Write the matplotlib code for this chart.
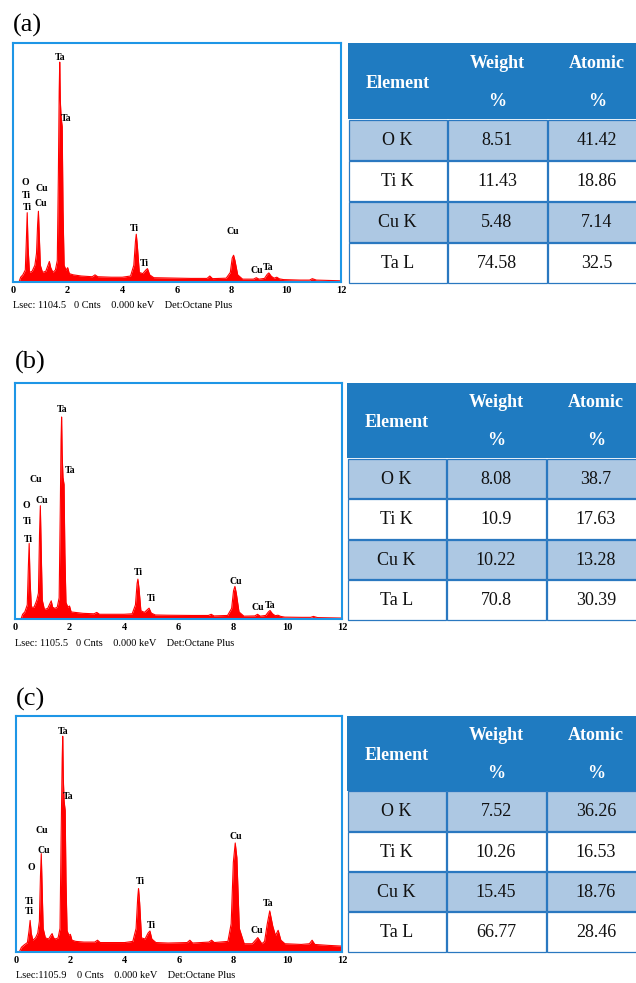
"""EDS spectra with element tables, three samples (a)-(c)."""
import matplotlib
matplotlib.use('Agg')
import matplotlib.pyplot as plt
from matplotlib.patches import Rectangle

plt.rcParams['font.family'] = ['Liberation Serif', 'DejaVu Serif']

# ── data ────────────────────────────────────────────────────────────────────
# (energy keV, relative counts)
spec_a = [(0.22, 0.0), (0.28, 0.02), (0.36, 0.03), (0.45, 0.05), (0.49, 0.18), (0.52, 0.29),
          (0.55, 0.15), (0.60, 0.04), (0.70, 0.045), (0.80, 0.07), (0.86, 0.12), (0.90, 0.24),
          (0.93, 0.296), (0.96, 0.20), (1.00, 0.07), (1.08, 0.04), (1.20, 0.045), (1.28, 0.07),
          (1.33, 0.086), (1.38, 0.06), (1.46, 0.04), (1.55, 0.05), (1.62, 0.09), (1.66, 0.45),
          (1.69, 0.80), (1.71, 0.92), (1.73, 0.76), (1.76, 0.69), (1.80, 0.65), (1.83, 0.30),
          (1.87, 0.07), (1.94, 0.05), (2.00, 0.06), (2.06, 0.035), (2.2, 0.03), (2.5, 0.025),
          (2.9, 0.022), (3.0, 0.03), (3.1, 0.022), (3.6, 0.02), (4.0, 0.02), (4.3, 0.025),
          (4.42, 0.07), (4.48, 0.17), (4.51, 0.20), (4.55, 0.15), (4.62, 0.04), (4.75, 0.035),
          (4.86, 0.05), (4.92, 0.056), (5.00, 0.03), (5.15, 0.018), (5.6, 0.017), (6.5, 0.015),
          (7.1, 0.015), (7.2, 0.025), (7.3, 0.014), (7.8, 0.016), (7.95, 0.04), (8.02, 0.10),
          (8.07, 0.112), (8.12, 0.09), (8.22, 0.03), (8.4, 0.012), (8.8, 0.012), (8.9, 0.018),
          (9.0, 0.012), (9.2, 0.015), (9.3, 0.032), (9.36, 0.038), (9.45, 0.024), (9.55, 0.016),
          (9.65, 0.02), (9.75, 0.013), (9.9, 0.01), (10.5, 0.008), (10.85, 0.008), (10.95, 0.014),
          (11.1, 0.008), (12.0, 0.005)]

spec_b = [(0.22, 0.0), (0.28, 0.02), (0.36, 0.03), (0.45, 0.06), (0.49, 0.22), (0.52, 0.32),
          (0.55, 0.17), (0.60, 0.05), (0.70, 0.05), (0.80, 0.08), (0.86, 0.11), (0.90, 0.36),
          (0.93, 0.48), (0.96, 0.30), (1.00, 0.08), (1.08, 0.04), (1.20, 0.045), (1.28, 0.065),
          (1.33, 0.077), (1.38, 0.05), (1.46, 0.045), (1.55, 0.05), (1.62, 0.09), (1.66, 0.45),
          (1.69, 0.76), (1.71, 0.856), (1.73, 0.70), (1.76, 0.60), (1.80, 0.57), (1.83, 0.28),
          (1.87, 0.07), (1.94, 0.05), (2.00, 0.055), (2.06, 0.03), (2.2, 0.028), (2.5, 0.024),
          (2.9, 0.022), (3.0, 0.028), (3.1, 0.02), (3.6, 0.02), (4.0, 0.02), (4.3, 0.022),
          (4.42, 0.06), (4.48, 0.15), (4.51, 0.169), (4.55, 0.13), (4.62, 0.035), (4.75, 0.028),
          (4.86, 0.04), (4.92, 0.046), (5.00, 0.025), (5.15, 0.017), (5.6, 0.016), (6.5, 0.015),
          (7.1, 0.015), (7.2, 0.02), (7.3, 0.013), (7.8, 0.015), (7.95, 0.045), (8.02, 0.12),
          (8.07, 0.138), (8.12, 0.11), (8.22, 0.03), (8.4, 0.012), (8.8, 0.013), (8.9, 0.02),
          (9.0, 0.012), (9.2, 0.015), (9.3, 0.03), (9.36, 0.036), (9.45, 0.022), (9.55, 0.014),
          (9.65, 0.016), (9.75, 0.011), (9.9, 0.008), (10.5, 0.007), (10.85, 0.007), (10.95, 0.011),
          (11.1, 0.006), (12.0, 0.004)]

spec_c = [(0.12, 0.0), (0.20, 0.02), (0.30, 0.03), (0.42, 0.04), (0.48, 0.09), (0.52, 0.134),
          (0.56, 0.08), (0.62, 0.05), (0.72, 0.06), (0.80, 0.08), (0.86, 0.13), (0.90, 0.32),
          (0.93, 0.417), (0.96, 0.28), (1.00, 0.10), (1.08, 0.06), (1.20, 0.055), (1.28, 0.07),
          (1.33, 0.078), (1.38, 0.06), (1.46, 0.055), (1.55, 0.06), (1.62, 0.10), (1.66, 0.48),
          (1.70, 0.82), (1.72, 0.914), (1.74, 0.74), (1.77, 0.64), (1.81, 0.60), (1.84, 0.30),
          (1.88, 0.09), (1.95, 0.07), (2.00, 0.075), (2.06, 0.05), (2.2, 0.045), (2.5, 0.042),
          (2.9, 0.042), (3.0, 0.05), (3.1, 0.04), (3.6, 0.04), (4.0, 0.04), (4.3, 0.045),
          (4.42, 0.10), (4.48, 0.23), (4.51, 0.269), (4.55, 0.21), (4.62, 0.06), (4.75, 0.055),
          (4.86, 0.08), (4.93, 0.089), (5.00, 0.055), (5.15, 0.04), (5.6, 0.038), (6.3, 0.04),
          (6.4, 0.05), (6.5, 0.038), (7.1, 0.042), (7.2, 0.05), (7.3, 0.04), (7.8, 0.045),
          (7.92, 0.12), (8.00, 0.38), (8.07, 0.462), (8.13, 0.40), (8.22, 0.10), (8.4, 0.035),
          (8.7, 0.035), (8.9, 0.061), (9.05, 0.035), (9.15, 0.045), (9.25, 0.12), (9.34, 0.174),
          (9.45, 0.11), (9.55, 0.07), (9.65, 0.092), (9.75, 0.05), (9.9, 0.035), (10.5, 0.032),
          (10.8, 0.035), (10.9, 0.05), (11.0, 0.032), (11.5, 0.028), (12.0, 0.025)]

# (energy keV, relative height, element) peak labels
labels_a = [(1.71, 0.94, 'Ta'), (1.96, 0.685, 'Ta'), (0.45, 0.417, 'O'), (0.49, 0.363, 'Ti'),
            (0.51, 0.313, 'Ti'), (1.06, 0.392, 'Cu'), (1.00, 0.329, 'Cu'), (4.42, 0.224, 'Ti'),
            (4.80, 0.078, 'Ti'), (8.06, 0.212, 'Cu'), (8.91, 0.049, 'Cu'), (9.32, 0.060, 'Ta')]
labels_b = [(1.72, 0.889, 'Ta'), (2.02, 0.631, 'Ta'), (0.77, 0.592, 'Cu'), (0.98, 0.504, 'Cu'),
            (0.43, 0.483, 'O'), (0.47, 0.413, 'Ti'), (0.49, 0.335, 'Ti'), (4.53, 0.195, 'Ti'),
            (5.02, 0.085, 'Ti'), (8.12, 0.157, 'Cu'), (8.90, 0.050, 'Cu'), (9.37, 0.058, 'Ta')]
labels_c = [(1.74, 0.936, 'Ta'), (1.92, 0.660, 'Ta'), (0.94, 0.516, 'Cu'), (1.03, 0.431, 'Cu'),
            (0.58, 0.356, 'O'), (0.49, 0.216, 'Ti'), (0.49, 0.170, 'Ti'), (4.56, 0.297, 'Ti'),
            (4.99, 0.113, 'Ti'), (8.09, 0.490, 'Cu'), (8.85, 0.089, 'Cu'), (9.28, 0.205, 'Ta')]

footer_a = 'Lsec: 1104.5   0 Cnts    0.000 keV    Det:Octane Plus'
footer_b = 'Lsec: 1105.5   0 Cnts    0.000 keV    Det:Octane Plus'
footer_c = 'Lsec:1105.9    0 Cnts    0.000 keV    Det:Octane Plus'

elements = ['O K', 'Ti K', 'Cu K', 'Ta L']
weight_a = [8.51, 11.43, 5.48, 74.58]
atomic_a = [41.42, 18.86, 7.14, 32.5]
weight_b = [8.08, 10.9, 10.22, 70.8]
atomic_b = [38.7, 17.63, 13.28, 30.39]
weight_c = [7.52, 10.26, 15.45, 66.77]
atomic_c = [36.26, 16.53, 18.76, 28.46]

xticks = [0, 2, 4, 6, 8, 10, 12]

# ── style ───────────────────────────────────────────────────────────────────
C_FRAME = '#1E96E6'
C_HEAD = '#1F7BC1'
C_LIGHT = '#ADC8E3'
C_LINE = '#2A78C0'

W, H = 636, 983
fig = plt.figure(figsize=(W / 100, H / 100), dpi=100)
fig.patch.set_facecolor('white')


def px_axes(l, t, r, b):
    return fig.add_axes([l / W, 1 - b / H, (r - l) / W, (b - t) / H])


def spectrum(box, spec, labels, footer, tag, tag_y):
    l, t, r, b = box
    ax = px_axes(l, t, r, b)
    e = [p[0] for p in spec]
    c = [p[1] for p in spec]
    ax.fill_between(e, c, 0, color='#FF0000', lw=0)
    ax.plot(e, c, color='#FF0000', lw=0.8)
    ax.set_xlim(0, 12)
    ax.set_ylim(0, 1)
    ax.set_yticks([])
    ax.set_xticks(xticks)
    ax.tick_params(axis='x', length=0, pad=3, labelsize=7.5)
    for lbl in ax.get_xticklabels():
        lbl.set_fontweight('bold')
    for s in ax.spines.values():
        s.set_color(C_FRAME)
        s.set_linewidth(1.5)
    for x, y, s in labels:
        ax.text(x, y, s, ha='center', va='center', fontsize=7, fontweight='bold')
    fig.text(l / W, 1 - (b + 24) / H, footer, ha='left', va='center', fontsize=7.5)
    fig.text(l / W, 1 - tag_y / H, tag, ha='left', va='center', fontsize=19)


def table(box, weight, atomic):
    l, t, r, b = box
    ax = px_axes(l, t, r, b)
    ax.set_xlim(0, r - l)
    ax.set_ylim(240, 0)
    ax.axis('off')
    col_x = [0, 99, 199, 299]
    head_h, row_h = 76, 41
    ax.add_patch(Rectangle((0, 0), col_x[-1], head_h, facecolor=C_HEAD, edgecolor='none',
                           clip_on=False))
    hd = dict(ha='center', va='center', fontsize=13, fontweight='bold', color='white')
    ax.text((col_x[0] + col_x[1]) / 2, head_h / 2 + 2, 'Element', **hd)
    for j, name in enumerate(['Weight', 'Atomic']):
        cx = (col_x[j + 1] + col_x[j + 2]) / 2
        ax.text(cx, 20, name, **hd)
        ax.text(cx, 58, '%', **hd)
    for i, el in enumerate(elements):
        y0 = head_h + i * row_h
        fc = C_LIGHT if i % 2 == 0 else 'white'
        cells = [el, str(weight[i]), str(atomic[i])]
        for j, txt in enumerate(cells):
            ax.add_patch(Rectangle((col_x[j] + 0.5, y0 + 0.5), col_x[j + 1] - col_x[j] - 1,
                                   row_h - 1, facecolor=fc, edgecolor=C_LINE, lw=0.9,
                                   clip_on=False))
            ax.text((col_x[j] + col_x[j + 1]) / 2, y0 + row_h / 2 + 1, txt,
                    ha='center', va='center', fontsize=13, color='#111111')


spectrum((13, 43, 341, 282), spec_a, labels_a, footer_a, '(a)', 25)
table((348, 43, 636, 283), weight_a, atomic_a)

spectrum((15, 383, 342, 619), spec_b, labels_b, footer_b, '(b)', 362)
table((347, 383, 636, 620), weight_b, atomic_b)

spectrum((16, 716, 342, 952), spec_c, labels_c, footer_c, '(c)', 699)
table((347, 716, 636, 952), weight_c, atomic_c)

fig.savefig('out.png', dpi=100, facecolor='white')
